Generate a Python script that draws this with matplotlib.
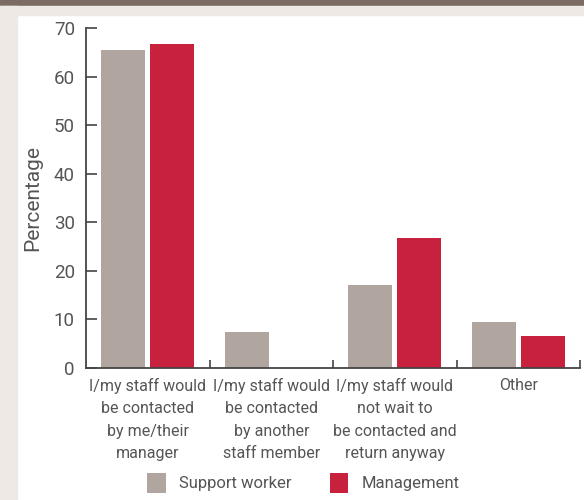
import numpy as np
import matplotlib.pyplot as plt
from matplotlib.patches import Rectangle

categories = [
    "I/my staff would\nbe contacted\nby me/their\nmanager",
    "I/my staff would\nbe contacted\nby another\nstaff member",
    "I/my staff would\nnot wait to\nbe contacted and\nreturn anyway",
    "Other",
]
support_worker = [65.5, 7.5, 17.0, 9.4]
management = [66.8, 0.0, 26.7, 6.5]
series_names = ["Support worker", "Management"]
y_ticks = [0, 10, 20, 30, 40, 50, 60, 70]

GREY = "#b0a69f"
RED = "#c8213e"
TEXT = "#555555"
FRAME = "#efe9e6"

plt.rcParams["font.family"] = ["Roboto", "DejaVu Sans"]

W, H = 584, 500
fig = plt.figure(figsize=(W / 100, H / 100), dpi=100)
fig.patch.set_facecolor("white")

# page frame: dark band on top, pale border on the left and top
fig.add_artist(Rectangle((0, 1 - 6 / H), 1, 6 / H, transform=fig.transFigure,
                         color="#7a6c63", zorder=0))
fig.add_artist(Rectangle((0, 1 - 15 / H), 1, 9 / H, transform=fig.transFigure,
                         color=FRAME, zorder=0))
fig.add_artist(Rectangle((0, 0), 17 / W, 1 - 6 / H, transform=fig.transFigure,
                         color=FRAME, zorder=0))

left, right, bottom, top = 86, 580, 368, 28
ax = fig.add_axes([left / W, (H - bottom) / H, (right - left) / W,
                   (bottom - top) / H])

ind = np.arange(len(categories))
width = 0.357
off = width / 2 + 0.02
ax.bar(ind - off, support_worker, width, color=GREY, label=series_names[0],
       zorder=2)
ax.bar(ind + off, management, width, color=RED, label=series_names[1],
       zorder=2)

ax.set_xlim(-0.5, 3.5)
ax.set_ylim(0, 70)
ax.set_yticks(y_ticks)
ax.set_xticks(ind)
ax.set_xticklabels(categories, fontsize=11.5, color=TEXT, linespacing=1.62)
ax.set_xticks(list(ind + 0.5), minor=True)
ax.tick_params(axis="x", which="major", length=0, pad=7)
ax.tick_params(axis="x", which="minor", direction="in", length=6,
               width=1.2, color="#444444")
ax.tick_params(axis="y", direction="in", length=8, width=1.2,
               color="#444444", labelsize=13.5, labelcolor=TEXT, pad=8)
for s in ["top", "right"]:
    ax.spines[s].set_visible(False)
for s in ["left", "bottom"]:
    ax.spines[s].set_color("#444444")
    ax.spines[s].set_linewidth(1.3)

ax.set_ylabel("Percentage", fontsize=15, color=TEXT, labelpad=8)

ax.legend(loc="center", bbox_to_anchor=(0.44, -0.338), ncol=2,
          frameon=False, fontsize=12, labelcolor=TEXT, handlelength=1.1,
          handleheight=1.4, columnspacing=2.3, handletextpad=0.8)

fig.savefig("out.png", dpi=100)
